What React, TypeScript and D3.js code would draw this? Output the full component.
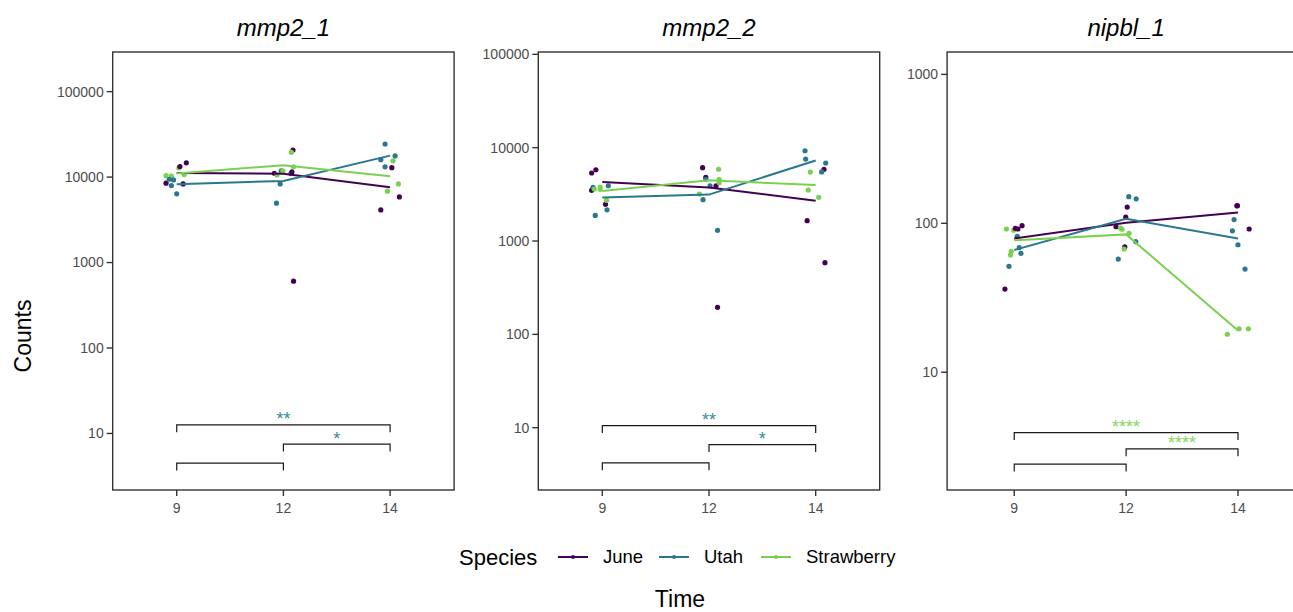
import React from "react";
import * as d3 from "d3";

const species = ["June", "Utah", "Strawberry"];
const speciesColors = ["#440154", "#2A788E", "#7AD151"];
const times = ["9", "12", "14"];

// [species, time, jitter (in steps), count]
const mmp2_1Points: [string, string, number, number][] = [
  ["Strawberry", "9", -0.1, 10400],
  ["Strawberry", "9", -0.05, 10300],
  ["June", "9", -0.1, 8500],
  ["Utah", "9", -0.05, 7960],
  ["Utah", "9", -0.03, 9270],
  ["Utah", "9", 0.0, 6370],
  ["June", "9", 0.06, 8320],
  ["Strawberry", "9", 0.07, 10700],
  ["Strawberry", "9", 0.02, 12800],
  ["June", "9", 0.03, 13300],
  ["June", "9", 0.09, 14700],
  ["Utah", "9", -0.07, 9440],
  ["June", "12", 0.09, 20700],
  ["Strawberry", "12", 0.075, 19500],
  ["June", "12", -0.085, 11100],
  ["Strawberry", "12", -0.06, 10600],
  ["Utah", "12", -0.02, 11800],
  ["Strawberry", "12", -0.005, 11800],
  ["Utah", "12", 0.07, 11000],
  ["June", "12", 0.08, 11500],
  ["Strawberry", "12", 0.095, 13200],
  ["Utah", "12", -0.03, 8320],
  ["Utah", "12", -0.065, 4950],
  ["June", "12", 0.095, 605],
  ["Utah", "14", -0.047, 24400],
  ["Utah", "14", -0.087, 16000],
  ["Utah", "14", 0.047, 17700],
  ["Strawberry", "14", 0.028, 15500],
  ["Utah", "14", -0.047, 13200],
  ["June", "14", 0.016, 12900],
  ["Strawberry", "14", 0.078, 8320],
  ["Strawberry", "14", -0.025, 6840],
  ["June", "14", 0.087, 5860],
  ["June", "14", -0.087, 4130],
];

const mmp2_2Points: [string, string, number, number][] = [
  ["June", "9", -0.1, 5350],
  ["June", "9", -0.06, 5800],
  ["June", "9", -0.1, 3490],
  ["Utah", "9", -0.087, 3760],
  ["Strawberry", "9", -0.075, 3600],
  ["Strawberry", "9", -0.02, 3790],
  ["Strawberry", "9", -0.02, 3580],
  ["Utah", "9", 0.056, 3910],
  ["June", "9", 0.03, 2470],
  ["Strawberry", "9", 0.04, 2730],
  ["Utah", "9", 0.044, 2160],
  ["Utah", "9", -0.066, 1880],
  ["June", "12", -0.06, 6100],
  ["June", "12", -0.03, 4810],
  ["Utah", "12", -0.03, 4580],
  ["Utah", "12", 0.01, 3910],
  ["June", "12", 0.066, 3910],
  ["Strawberry", "12", 0.09, 5870],
  ["Strawberry", "12", 0.095, 4580],
  ["Strawberry", "12", 0.095, 4220],
  ["Strawberry", "12", -0.09, 3180],
  ["Utah", "12", -0.056, 2770],
  ["Utah", "12", 0.08, 1300],
  ["June", "12", 0.08, 195],
  ["Utah", "14", -0.1, 9270],
  ["Utah", "14", -0.094, 7550],
  ["Utah", "14", 0.094, 6850],
  ["June", "14", 0.078, 5870],
  ["Utah", "14", 0.056, 5490],
  ["Strawberry", "14", -0.05, 5480],
  ["Strawberry", "14", -0.07, 3520],
  ["Strawberry", "14", 0.028, 2940],
  ["June", "14", -0.08, 1650],
  ["June", "14", 0.087, 586],
];

const nipbl_1Points: [string, string, number, number][] = [
  ["Strawberry", "9", -0.07, 91.6],
  ["Strawberry", "9", -0.005, 89.8],
  ["June", "9", 0.033, 91.6],
  ["June", "9", 0.07, 96.4],
  ["June", "9", 0.01, 92.6],
  ["Utah", "9", 0.027, 81.8],
  ["Utah", "9", 0.045, 68.6],
  ["Utah", "9", 0.06, 62.9],
  ["Strawberry", "9", -0.027, 64.9],
  ["Strawberry", "9", -0.033, 61.3],
  ["Utah", "9", -0.047, 51.4],
  ["June", "9", -0.083, 36.2],
  ["Utah", "12", 0.024, 151],
  ["Utah", "12", 0.09, 146],
  ["June", "12", 0.01, 128.6],
  ["June", "12", -0.003, 110],
  ["June", "12", -0.09, 94.9],
  ["Strawberry", "12", -0.05, 93],
  ["Strawberry", "12", -0.036, 91.2],
  ["Strawberry", "12", 0.027, 85.7],
  ["Utah", "12", 0.087, 75.3],
  ["June", "12", -0.012, 69.4],
  ["Strawberry", "12", -0.018, 67.2],
  ["Utah", "12", -0.07, 57.5],
  ["June", "14", -0.01, 131],
  ["June", "14", -0.005, 131.4],
  ["June", "14", 0.1, 91.6],
  ["Utah", "14", -0.035, 106],
  ["Utah", "14", -0.05, 89.1],
  ["Utah", "14", 0.0, 71.8],
  ["Utah", "14", 0.063, 49.3],
  ["Strawberry", "14", -0.095, 18.0],
  ["Strawberry", "14", 0.01, 19.6],
  ["Strawberry", "14", 0.093, 19.6],
];

// [from, to, y, label]
const mmp2_1Brackets: [string, string, number, string][] = [
  ["9", "14", 12.6, "**"],
  ["12", "14", 7.5, "*"],
  ["9", "12", 4.5, ""],
];
const mmp2_2Brackets: [string, string, number, string][] = [
  ["9", "14", 10.5, "**"],
  ["12", "14", 6.6, "*"],
  ["9", "12", 4.2, ""],
];
const nipbl_1Brackets: [string, string, number, string][] = [
  ["9", "14", 3.93, "****"],
  ["12", "14", 3.06, "****"],
  ["9", "12", 2.42, ""],
];

const panels = [
  { title: "mmp2_1", points: mmp2_1Points, brackets: mmp2_1Brackets, ticks: [10, 100, 1000, 10000, 100000], domain: [2.18, 291000], left: 112.7, width: 341.4, labelColor: "#3A8A9E" },
  { title: "mmp2_2", points: mmp2_2Points, brackets: mmp2_2Brackets, ticks: [10, 100, 1000, 10000, 100000], domain: [2.15, 105900], left: 538.3, width: 341.4, labelColor: "#3A8A9E" },
  { title: "nipbl_1", points: nipbl_1Points, brackets: nipbl_1Brackets, ticks: [10, 100, 1000], domain: [1.62, 1413], left: 947.1, width: 358, labelColor: "#86D65E" },
];

const top = 52;
const bottom = 490;
const font = "'Liberation Sans', Arial, Helvetica, sans-serif";

const color = d3.scaleOrdinal<string, string>().domain(species).range(speciesColors);

const Panel = ({ p }: { p: (typeof panels)[number] }) => {
  const x = d3.scalePoint().domain(times).range([p.left, p.left + p.width]).padding(0.6);
  const y = d3.scaleLog().domain(p.domain).range([bottom, top]);
  const step = x.step();
  const line = d3
    .line<[string, number]>()
    .x((d) => x(d[0])!)
    .y((d) => y(d[1]));

  return (
    <g>
      <text x={p.left + p.width / 2} y={36} textAnchor="middle" fontStyle="italic" fontSize={24} fontFamily={font}>
        {p.title}
      </text>
      {p.points.map((d, i) => (
        <circle key={i} cx={x(d[1])! + d[2] * step} cy={y(d[3])} r={2.6} fill={color(d[0])} />
      ))}
      {species.map((s) => {
        const means: [string, number][] = times.map((t) => [
          t,
          d3.mean(p.points.filter((d) => d[0] === s && d[1] === t), (d) => d[3])!,
        ]);
        return <path key={s} d={line(means)!} fill="none" stroke={color(s)} strokeWidth={2} />;
      })}
      {p.brackets.map((b, i) => {
        const x1 = x(b[0])!;
        const x2 = x(b[1])!;
        const yy = y(b[2]);
        return (
          <g key={i}>
            <path d={`M${x1},${yy + 7.4}V${yy}H${x2}V${yy + 7.4}`} fill="none" stroke="#1a1a1a" strokeWidth={1.2} />
            <text x={(x1 + x2) / 2} y={yy + 0.5} textAnchor="middle" fontSize={18} fontFamily={font} fill={p.labelColor}>
              {b[3]}
            </text>
          </g>
        );
      })}
      <rect x={p.left} y={top} width={p.width} height={bottom - top} fill="none" stroke="#333" strokeWidth={1.4} />
      {p.ticks.map((t) => (
        <g key={t}>
          <line x1={p.left - 6} x2={p.left} y1={y(t)} y2={y(t)} stroke="#333" strokeWidth={1.4} />
          <text x={p.left - 9} y={y(t)} dy="0.35em" textAnchor="end" fontSize={14} fontFamily={font} fill="#4d4d4d">
            {t}
          </text>
        </g>
      ))}
      {times.map((t) => (
        <g key={t}>
          <line x1={x(t)} x2={x(t)} y1={bottom} y2={bottom + 6} stroke="#333" strokeWidth={1.4} />
          <text x={x(t)} y={bottom + 23} textAnchor="middle" fontSize={14} fontFamily={font} fill="#4d4d4d">
            {t}
          </text>
        </g>
      ))}
    </g>
  );
};

const legendX = [558, 659, 761];

const App = () => {
  return (
    <svg width={1293} height={612} style={{ position: "absolute", left: 0, top: 0, background: "#fff" }}>
      {panels.map((p) => (
        <Panel key={p.title} p={p} />
      ))}
      <text transform="translate(31,336) rotate(-90)" textAnchor="middle" fontSize={23} fontFamily={font}>
        Counts
      </text>
      <text x={680} y={607} textAnchor="middle" fontSize={23} fontFamily={font}>
        Time
      </text>
      <text x={459} y={565} fontSize={22} fontFamily={font}>
        Species
      </text>
      {species.map((s, i) => (
        <g key={s}>
          <line x1={legendX[i]} x2={legendX[i] + 30} y1={557} y2={557} stroke={color(s)} strokeWidth={2} />
          <circle cx={legendX[i] + 15} cy={557} r={2} fill={color(s)} />
          <text x={legendX[i] + 45} y={557} dy="0.35em" fontSize={18.5} fontFamily={font}>
            {s}
          </text>
        </g>
      ))}
    </svg>
  );
};

export default App;
